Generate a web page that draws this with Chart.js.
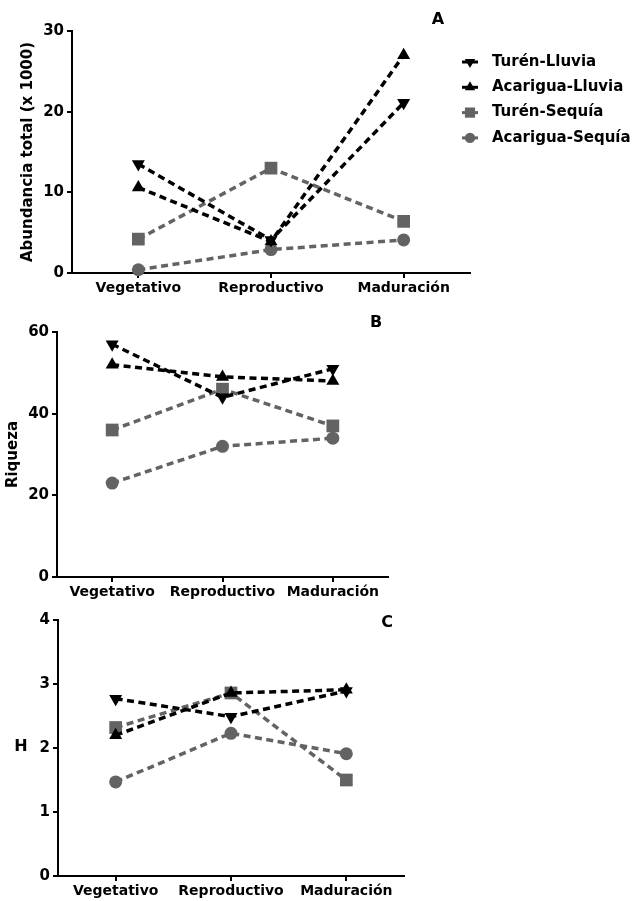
<!DOCTYPE html>
<html>
<head>
<meta charset="utf-8">
<script src="https://cdn.jsdelivr.net/npm/chart.js@4.4.1/dist/chart.umd.min.js"></script>
<style>
body { margin: 0; background: #fff; }
#wrap { position: relative; width: 634px; height: 901px; }
canvas { position: absolute; left: 0; }
</style>
</head>
<body>
<div id="wrap">
  <canvas id="chartA" width="634" height="300" style="top:0px"></canvas>
  <canvas id="chartB" width="634" height="300" style="top:300px"></canvas>
  <canvas id="chartC" width="634" height="301" style="top:600px"></canvas>
</div>
<script>
// categories + series names
const stages = ["Vegetativo", "Reproductivo", "Maduración"]
const seriesNames = ["Turén-Lluvia", "Acarigua-Lluvia", "Turén-Sequía", "Acarigua-Sequía"]

// A - Abundancia total (x 1000)
const abundTurenLluvia    = [13.5, 4.1, 21.1]
const abundAcariguaLluvia = [10.6, 3.9, 27.0]
const abundTurenSequia    = [4.2, 13.0, 6.4]
const abundAcariguaSequia = [0.4, 2.9, 4.1]
const abundTicks = [0, 10, 20, 30]

// B - Riqueza
const riqTurenLluvia    = [57, 44, 51]
const riqAcariguaLluvia = [52, 49, 48]
const riqTurenSequia    = [36, 46, 37]
const riqAcariguaSequia = [23, 32, 34]
const riqTicks = [0, 20, 40, 60]

// C - H
const hTurenLluvia    = [2.77, 2.49, 2.89]
const hAcariguaLluvia = [2.20, 2.86, 2.91]
const hTurenSequia    = [2.32, 2.86, 1.50]
const hAcariguaSequia = [1.47, 2.23, 1.91]
const hTicks = [0, 1, 2, 3, 4]

const FONT = "'DejaVu Sans'"
Chart.defaults.font.family = FONT
Chart.defaults.font.weight = 'bold'
Chart.defaults.color = '#000'

let markerStyles = [
  { color: '#000', pointStyle: 'triangle', rotation: 180, radius: 7.5 },
  { color: '#000', pointStyle: 'triangle', rotation: 0, radius: 7.5 },
  { color: '#636363', pointStyle: 'rect', rotation: 0, radius: 9 },
  { color: '#636363', pointStyle: 'circle', rotation: 0, radius: 6.5 }
]

let makeDatasets = function(seriesList) {
  return seriesList.map(function(vals, i) {
    let st = markerStyles[i]
    return {
      label: seriesNames[i],
      data: vals,
      borderColor: st.color,
      backgroundColor: st.color,
      borderWidth: 3.5,
      borderDash: [7, 4.5],
      pointStyle: st.pointStyle,
      pointRotation: st.rotation,
      pointRadius: st.radius,
      pointBorderWidth: 0,
      pointBackgroundColor: st.color,
      tension: 0,
      clip: false
    }
  })
}

// panel letter + optional horizontal axis label
const textMarks = {
  id: 'textMarks',
  afterDraw(chart, args, opts) {
    let ctx = chart.ctx
    ctx.save()
    ctx.fillStyle = '#000'
    ctx.textAlign = 'center'
    ctx.textBaseline = 'middle'
    ;(opts.items || []).forEach(function(t) {
      ctx.font = 'bold ' + t.size + 'px ' + FONT
      ctx.fillText(t.text, t.x, t.y)
    })
    ctx.restore()
  }
}

// legend at the right of panel A
const sideLegend = {
  id: 'sideLegend',
  afterDraw(chart, args, opts) {
    if (!opts.show) return
    let ctx = chart.ctx
    ctx.save()
    chart.data.datasets.forEach(function(ds, i) {
      let y = opts.y + i * opts.gap
      ctx.strokeStyle = ds.borderColor
      ctx.fillStyle = ds.borderColor
      ctx.lineWidth = 3
      ctx.setLineDash([])
      ctx.beginPath()
      ctx.moveTo(opts.x - 8, y)
      ctx.lineTo(opts.x + 8, y)
      ctx.stroke()
      Chart.helpers.drawPoint(ctx, {
        pointStyle: ds.pointStyle,
        rotation: ds.pointRotation,
        radius: ds.pointRadius * 0.8,
        borderWidth: 0
      }, opts.x, y)
      ctx.fillStyle = '#000'
      ctx.font = 'bold 15px ' + FONT
      ctx.textAlign = 'left'
      ctx.textBaseline = 'middle'
      ctx.fillText(ds.label, opts.x + 22, y)
    })
    ctx.restore()
  }
}

let makePanel = function(id, seriesList, ticks, box, yTitle, extras) {
  let canvas = document.getElementById(id)
  let H = canvas.height
  return new Chart(canvas.getContext('2d'), {
    type: 'line',
    data: { labels: stages, datasets: makeDatasets(seriesList) },
    plugins: [textMarks, sideLegend],
    options: {
      responsive: false,
      animation: false,
      layout: { padding: { left: 0, right: 634 - box.right, top: box.top, bottom: 0 } },
      plugins: {
        legend: { display: false },
        tooltip: { enabled: false },
        textMarks: { items: extras.texts },
        sideLegend: extras.legend || { show: false }
      },
      scales: {
        x: {
          offset: true,
          grid: { offset: false, drawOnChartArea: false, color: '#000', lineWidth: 2, tickLength: 5 },
          border: { color: '#000', width: 2 },
          ticks: { font: { size: 14, weight: 'bold' }, padding: 2, maxRotation: 0 },
          afterFit: function(s) { s.height = H - box.bottom }
        },
        y: {
          min: ticks[0],
          max: ticks[ticks.length - 1],
          afterBuildTicks: function(s) { s.ticks = ticks.map(v => ({ value: v })) },
          grid: { drawOnChartArea: false, color: '#000', lineWidth: 2, tickLength: 5 },
          border: { color: '#000', width: 2 },
          ticks: { font: { size: 15, weight: 'bold' }, padding: 3 },
          title: yTitle ? {
            display: true, text: yTitle.text,
            font: { size: 15, weight: 'bold' },
            padding: { top: yTitle.pad, bottom: 0 }
          } : { display: false },
          afterFit: function(s) { s.width = box.left }
        }
      }
    }
  })
}

makePanel('chartA',
  [abundTurenLluvia, abundAcariguaLluvia, abundTurenSequia, abundAcariguaSequia],
  abundTicks,
  { left: 72, right: 470, top: 31, bottom: 273 },
  { text: 'Abundancia total (x 1000)', pad: 19 },
  { texts: [{ text: 'A', x: 438, y: 20, size: 16 }], legend: { show: true, x: 470, y: 62, gap: 25.3 } })

makePanel('chartB',
  [riqTurenLluvia, riqAcariguaLluvia, riqTurenSequia, riqAcariguaSequia],
  riqTicks,
  { left: 57, right: 388, top: 32, bottom: 277 },
  { text: 'Riqueza', pad: 4 },
  { texts: [{ text: 'B', x: 376, y: 23, size: 16 }] })

makePanel('chartC',
  [hTurenLluvia, hAcariguaLluvia, hTurenSequia, hAcariguaSequia],
  hTicks,
  { left: 58, right: 404, top: 20, bottom: 276 },
  null,
  { texts: [{ text: 'C', x: 387, y: 23, size: 16 }, { text: 'H', x: 21, y: 147, size: 16 }] })
</script>
</body>
</html>
